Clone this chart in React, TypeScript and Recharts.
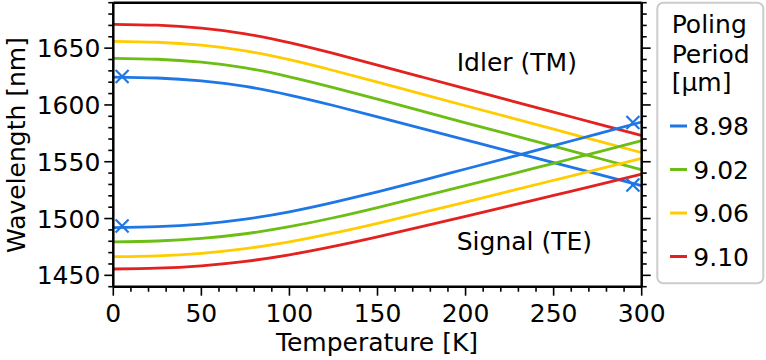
import React from 'react';
import { ComposedChart, Line, Scatter, XAxis, YAxis, ReferenceLine, ReferenceDot } from 'recharts';

// temperature grid [K]
const temps = [0, 25, 50, 75, 100, 125, 150, 175, 200, 225, 250, 275, 300];

// idler (TM) wavelengths [nm]
const idler898 = [1624.5, 1623.7, 1621.2, 1616.3, 1608.7, 1599.5, 1589.5, 1579.4, 1569.3, 1559.2, 1549.2, 1539.1, 1529];
const idler902 = [1641, 1640.2, 1637.6, 1632.6, 1624.8, 1615.3, 1605.1, 1594.7, 1584.3, 1574, 1563.7, 1553.3, 1543];
const idler906 = [1656, 1655.2, 1652.6, 1647.6, 1639.8, 1630.3, 1620.1, 1609.7, 1599.3, 1589, 1578.7, 1568.3, 1558];
const idler910 = [1671, 1670.2, 1667.6, 1662.6, 1654.8, 1645.3, 1635.1, 1624.7, 1614.3, 1604, 1593.7, 1583.3, 1573];

// signal (TE) wavelengths [nm]
const signal898 = [1492, 1492.8, 1495.1, 1499.5, 1505.9, 1514.2, 1523.5, 1533.4, 1543.6, 1553.8, 1564.2, 1574.5, 1585];
const signal902 = [1479.5, 1480.25, 1482.5, 1486.6, 1492.8, 1500.7, 1509.7, 1519.2, 1528.9, 1538.7, 1548.6, 1558.5, 1568.5];
const signal906 = [1466.5, 1467.2, 1469.4, 1473.5, 1479.5, 1487.1, 1495.8, 1505.1, 1514.5, 1524.1, 1533.7, 1543.3, 1553];
const signal910 = [1455.6, 1456.3, 1458.4, 1462.3, 1468.1, 1475.5, 1483.9, 1492.8, 1501.9, 1511.1, 1520.4, 1529.7, 1539.1];

const periods = ['8.98', '9.02', '9.06', '9.10'];
const colors = ['#1f77e6', '#6cbd14', '#ffcc00', '#e3211f'];
const idlers = [idler898, idler902, idler906, idler910];
const signals = [signal898, signal902, signal906, signal910];

// measured points (blue crosses)
const markerT = [5, 5, 295, 295];
const markerWl = [1625, 1493.5, 1584.5, 1529.5];

const xTicks = [0, 10, 20, 30, 40, 50, 60, 70, 80, 90, 100, 110, 120, 130, 140, 150, 160, 170, 180, 190, 200, 210, 220, 230, 240, 250, 260, 270, 280, 290, 300];
const yTicks = [1440, 1450, 1460, 1470, 1480, 1490, 1500, 1510, 1520, 1530, 1540, 1550, 1560, 1570, 1580, 1590, 1600, 1610, 1620, 1630, 1640, 1650, 1660, 1670, 1680, 1690];
const yLabelTicks = [1450, 1500, 1550, 1600, 1650];

const data = temps.map((T, i) => {
  const row: any = { T };
  periods.forEach((p, k) => {
    row['idler' + k] = idlers[k][i];
    row['signal' + k] = signals[k][i];
  });
  return row;
});

const markers = markerT.map((T, i) => ({ T, wl: markerWl[i] }));

const FONT = '"DejaVu Sans", sans-serif';
const FS = 25;

const LeftTick = (props: any) => {
  const { x, y, payload } = props;
  const major = payload.value % 50 === 0;
  return (
    <g>
      <line x1={x} y1={y} x2={x - (major ? 9 : 5)} y2={y} stroke="#000" strokeWidth={1.6} />
      {yLabelTicks.includes(payload.value) && (
        <text x={x - 13} y={y + 9} textAnchor="end" fontSize={FS} fontFamily={FONT} fill="#000">
          {payload.value}
        </text>
      )}
    </g>
  );
};

const RightTick = (props: any) => {
  const { x, y, payload } = props;
  const major = payload.value % 50 === 0;
  return <line x1={x} y1={y} x2={x + (major ? 9 : 5)} y2={y} stroke="#000" strokeWidth={1.6} />;
};

const BottomTick = (props: any) => {
  const { x, y, payload } = props;
  const major = payload.value % 50 === 0;
  return (
    <g>
      <line x1={x} y1={y} x2={x} y2={y + (major ? 9 : 5)} stroke="#000" strokeWidth={1.6} />
      {major && (
        <text x={x} y={y + 35.5} textAnchor="middle" fontSize={FS} fontFamily={FONT} fill="#000">
          {payload.value}
        </text>
      )}
    </g>
  );
};

const XMark = (props: any) => {
  const { cx, cy } = props;
  const s = 6.5;
  return (
    <g stroke={colors[0]} strokeWidth={2.2}>
      <line x1={cx - s} y1={cy - s} x2={cx + s} y2={cy + s} />
      <line x1={cx - s} y1={cy + s} x2={cx + s} y2={cy - s} />
    </g>
  );
};

const textShape = (label: string) => (props: any) => (
  <text x={props.cx} y={props.cy} fontSize={FS} fontFamily={FONT} fill="#000">
    {label}
  </text>
);

export default function App() {
  return (
    <div style={{ position: 'absolute', left: 0, top: 0, width: 766, height: 360, background: '#fff' }}>
      <ComposedChart
        width={766}
        height={360}
        data={data}
        margin={{ top: 2.7, right: 0, bottom: 0, left: 0 }}
        style={{ fontFamily: FONT }}
      >
        <XAxis
          dataKey="T"
          type="number"
          domain={[0, 300]}
          ticks={xTicks}
          interval={0}
          tickSize={0}
          tickMargin={0}
          tick={BottomTick}
          tickLine={false}
          axisLine={{ stroke: '#000', strokeWidth: 2.5 }}
          height={73.3}
          allowDataOverflow
        />
        <YAxis
          yAxisId="left"
          type="number"
          domain={[1440, 1690]}
          ticks={yTicks}
          interval={0}
          tickSize={0}
          tickMargin={0}
          tick={LeftTick}
          tickLine={false}
          axisLine={{ stroke: '#000', strokeWidth: 2.5 }}
          width={113.3}
          allowDataOverflow
        />
        <YAxis
          yAxisId="right"
          orientation="right"
          type="number"
          domain={[1440, 1690]}
          ticks={yTicks}
          interval={0}
          tickSize={0}
          tickMargin={0}
          tick={RightTick}
          tickLine={false}
          axisLine={{ stroke: '#000', strokeWidth: 2.5 }}
          width={124.3}
          allowDataOverflow
        />
        <ReferenceLine yAxisId="left" y={1690} stroke="#000" strokeWidth={2.5} />
        {periods.map((p, k) => (
          <Line
            key={'i' + p}
            yAxisId="left"
            type="natural"
            dataKey={'idler' + k}
            stroke={colors[k]}
            strokeWidth={2.8}
            dot={false}
            isAnimationActive={false}
          />
        ))}
        {periods.map((p, k) => (
          <Line
            key={'s' + p}
            yAxisId="left"
            type="natural"
            dataKey={'signal' + k}
            stroke={colors[k]}
            strokeWidth={2.8}
            dot={false}
            isAnimationActive={false}
          />
        ))}
        <Scatter yAxisId="left" data={markers} dataKey="wl" shape={XMark} isAnimationActive={false} />
        <ReferenceDot yAxisId="left" x={195} y={1629.5} r={0} shape={textShape('Idler (TM)')} />
        <ReferenceDot yAxisId="left" x={195} y={1472.5} r={0} shape={textShape('Signal (TE)')} />
      </ComposedChart>
      <svg
        width={766}
        height={360}
        style={{ position: 'absolute', left: 0, top: 0, pointerEvents: 'none' }}
        fontFamily={FONT}
        fontSize={FS}
      >
        <text x={377} y={351} textAnchor="middle">Temperature [K]</text>
        <text x={25} y={145} textAnchor="middle" transform="rotate(-90, 25, 145)">Wavelength [nm]</text>
        <rect x={657.3} y={2.7} width={106} height={280.6} rx={6} fill="#fff" stroke="#cccccc" strokeWidth={2} />
        <text x={671.7} y={33.3}>Poling</text>
        <text x={671.7} y={62.8}>Period</text>
        <text x={671.7} y={90.5}>[µm]</text>
        {periods.map((p, k) => (
          <g key={p}>
            <line x1={670} x2={687} y1={126 + k * 43.5} y2={126 + k * 43.5} stroke={colors[k]} strokeWidth={3} />
            <text x={693.3} y={135 + k * 43.5}>{p}</text>
          </g>
        ))}
      </svg>
    </div>
  );
}
